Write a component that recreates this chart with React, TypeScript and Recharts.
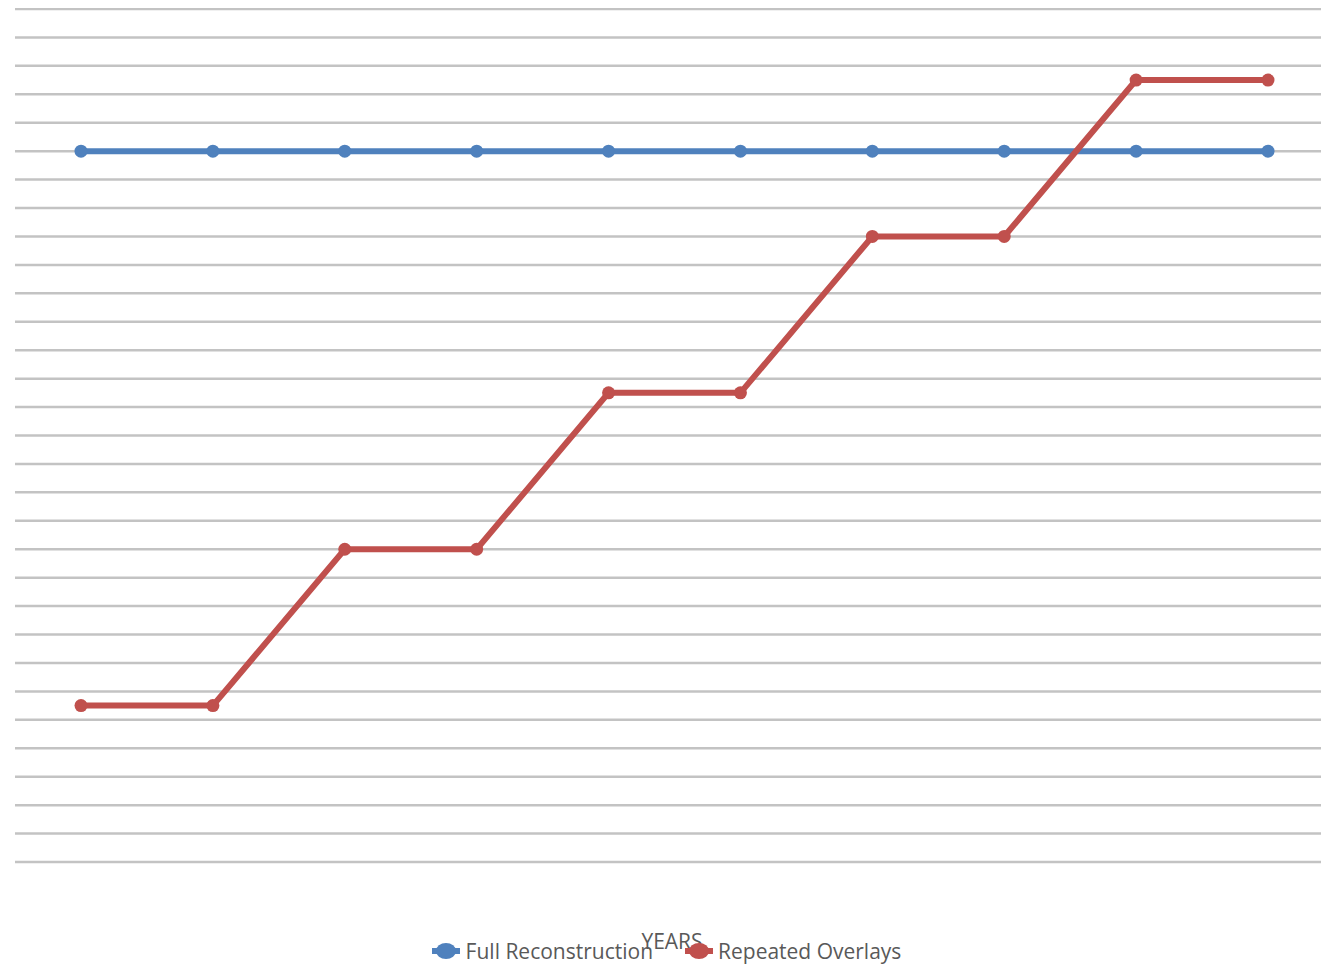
import React from 'react';
import { LineChart, Line, XAxis, YAxis, CartesianGrid, Legend } from 'recharts';

const years = ['Year 1', 'Year 2', 'Year 3', 'Year 4', 'Year 5', 'Year 6', 'Year 7', 'Year 8', 'Year 9', 'Year 10'];
const fullReconstruction = [25, 25, 25, 25, 25, 25, 25, 25, 25, 25];
const repeatedOverlays = [5.5, 5.5, 11, 11, 16.5, 16.5, 22, 22, 27.5, 27.5];
const yTicks = Array.from({ length: 31 }, (_, i) => i);

const BLUE = '#4f81bd';
const RED = '#c0504d';

const data = years.map((year, i) => ({
  year,
  full: fullReconstruction[i],
  overlays: repeatedOverlays[i],
}));

const Marker = ({ color }: { color: string }) => (
  <svg width={28} height={18} style={{ display: 'block' }}>
    <line x1={0} y1={9} x2={28} y2={9} stroke={color} strokeWidth={6} />
    <ellipse cx={14} cy={9} rx={10} ry={8} fill={color} />
  </svg>
);

const CustomLegend = () => (
  <div
    style={{
      display: 'flex',
      justifyContent: 'center',
      alignItems: 'center',
      gap: 32,
      fontFamily: '"Open Sans", sans-serif',
      fontSize: 21,
      color: '#595959',
      paddingRight: 4,
    }}
  >
    <div style={{ display: 'flex', alignItems: 'center', gap: 6 }}>
      <Marker color={BLUE} />
      <span>Full Reconstruction</span>
    </div>
    <div style={{ display: 'flex', alignItems: 'center', gap: 5 }}>
      <Marker color={RED} />
      <span>Repeated Overlays</span>
    </div>
  </div>
);

export default function App() {
  return (
    <div style={{ width: 1321, height: 957 }}>
      <LineChart width={1321} height={957} data={data} margin={{ top: 1, right: 0, left: 7, bottom: 0 }}>
        <CartesianGrid vertical={false} stroke="#c3c3c3" strokeWidth={2.5} horizontalValues={yTicks} />
        <XAxis
          dataKey="year"
          height={103}
          axisLine={false}
          tickLine={false}
          tick={false}
          padding={{ left: 66, right: 61 }}
          label={{
            value: 'YEARS',
            position: 'insideBottom',
            offset: 16,
            fill: '#595959',
            fontSize: 21,
            fontFamily: '"Open Sans", sans-serif',
          }}
        />
        <YAxis
          width={0}
          domain={[0, 30]}
          ticks={yTicks}
          interval={0}
          axisLine={false}
          tickLine={false}
          tick={{ fill: 'transparent', fontSize: 1 }}
        />
        <Legend
          verticalAlign="middle"
          layout="horizontal"
          align="center"
          wrapperStyle={{ top: 929, left: 0, width: 1321 }}
          content={<CustomLegend />}
        />
        <Line
          type="linear"
          dataKey="full"
          name="Full Reconstruction"
          stroke={BLUE}
          strokeWidth={6}
          dot={{ r: 6.5, fill: BLUE, stroke: 'none' }}
          isAnimationActive={false}
        />
        <Line
          type="linear"
          dataKey="overlays"
          name="Repeated Overlays"
          stroke={RED}
          strokeWidth={6}
          dot={{ r: 6.5, fill: RED, stroke: 'none' }}
          isAnimationActive={false}
        />
      </LineChart>
    </div>
  );
}
